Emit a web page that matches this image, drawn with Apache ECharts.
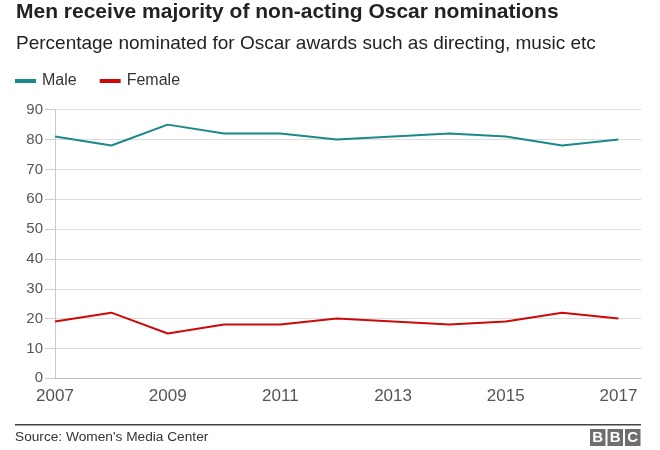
<!DOCTYPE html>
<html>
<head>
<meta charset="utf-8">
<script src="https://cdn.jsdelivr.net/npm/echarts@6/dist/echarts.min.js"></script>
<style>html,body{margin:0;padding:0;background:#fff}#c{width:660px;height:450px}</style>
</head>
<body>
<div id="c"></div>
<script>
var years = [2007, 2008, 2009, 2010, 2011, 2012, 2013, 2014, 2015, 2016, 2017];
var male = [81, 78, 85, 82, 82, 80, 81, 82, 81, 78, 80];
var female = [19, 22, 15, 18, 18, 20, 19, 18, 19, 22, 20];
var yTicks = [0, 10, 20, 30, 40, 50, 60, 70, 80, 90];
var xTickYears = [2007, 2009, 2011, 2013, 2015, 2017];

var FONT = '"Liberation Sans", Arial, Helvetica, sans-serif';
var chart = echarts.init(document.getElementById('c'), null, {renderer: 'canvas'});

function pairs(vals) { return years.map(function (y, i) { return [y, vals[i]]; }); }

chart.setOption({
  animation: false,
  textStyle: {fontFamily: FONT},
  title: [
    {text: 'Men receive majority of non-acting Oscar nominations', left: 11, top: -3,
     textStyle: {fontFamily: FONT, fontSize: 21, fontWeight: 'bold', color: '#222'}},
    {text: 'Percentage nominated for Oscar awards such as directing, music etc', left: 11, top: 29,
     textStyle: {fontFamily: FONT, fontSize: 19, fontWeight: 'normal', color: '#222'}}
  ],
  legend: {
    left: 15, top: 73, padding: 0, itemWidth: 21, itemHeight: 4, itemGap: 23,
    icon: 'rect',
    textStyle: {fontFamily: FONT, fontSize: 16, color: '#333', padding: [0, 0, 0, 1]},
    data: ['Male', 'Female']
  },
  grid: {left: 55, right: 19, top: 109.7, bottom: 71.7, containLabel: false},
  xAxis: {
    type: 'value', min: 2007, max: 2017.4, interval: 2,
    axisLine: {show: true, lineStyle: {color: '#bbb', width: 1}},
    axisTick: {show: false},
    splitLine: {show: false},
    axisLabel: {
      fontFamily: FONT, fontSize: 17, color: '#555', margin: 10, showMaxLabel: false,
      formatter: function (v) { return xTickYears.indexOf(v) >= 0 ? String(v) : ''; }
    }
  },
  yAxis: {
    type: 'value', min: yTicks[0], max: yTicks[yTicks.length - 1], interval: 10,
    axisLine: {show: true, lineStyle: {color: '#ccc', width: 1}},
    axisTick: {show: true, length: 10, lineStyle: {color: '#ccc'}},
    splitLine: {show: true, lineStyle: {color: '#ddd', width: 1}},
    axisLabel: {fontFamily: FONT, fontSize: 15, color: '#555', margin: 12}
  },
  series: [
    {name: 'Male', type: 'line', data: pairs(male), symbol: 'none', color: '#1b8a86',
     lineStyle: {width: 2, color: '#1b8a86'}},
    {name: 'Female', type: 'line', data: pairs(female), symbol: 'none', color: '#cc0a0a',
     lineStyle: {width: 2, color: '#cc0a0a'}}
  ],
  graphic: [
    {type: 'rect', shape: {x: 15, y: 424, width: 626, height: 1.5}, style: {fill: '#444'}},
    {type: 'text', left: 15, top: 430, style: {text: "Source: Women's Media Center", fontFamily: FONT, fontSize: 13.7, fill: '#333'}},
    {type: 'group', left: 590, top: 429, children: [
      {type: 'rect', shape: {x: 0, y: 0, width: 15.5, height: 17}, style: {fill: '#6e6e6e'}},
      {type: 'rect', shape: {x: 17.5, y: 0, width: 15.5, height: 17}, style: {fill: '#6e6e6e'}},
      {type: 'rect', shape: {x: 35, y: 0, width: 15.5, height: 17}, style: {fill: '#6e6e6e'}},
      {type: 'text', x: 7.75, y: 8.5, style: {text: 'B', fontFamily: FONT, fontSize: 15, fontWeight: 'bold', fill: '#fff', align: 'center', verticalAlign: 'middle'}},
      {type: 'text', x: 25.25, y: 8.5, style: {text: 'B', fontFamily: FONT, fontSize: 15, fontWeight: 'bold', fill: '#fff', align: 'center', verticalAlign: 'middle'}},
      {type: 'text', x: 42.75, y: 8.5, style: {text: 'C', fontFamily: FONT, fontSize: 15, fontWeight: 'bold', fill: '#fff', align: 'center', verticalAlign: 'middle'}}
    ]}
  ]
});
</script>
</body>
</html>
